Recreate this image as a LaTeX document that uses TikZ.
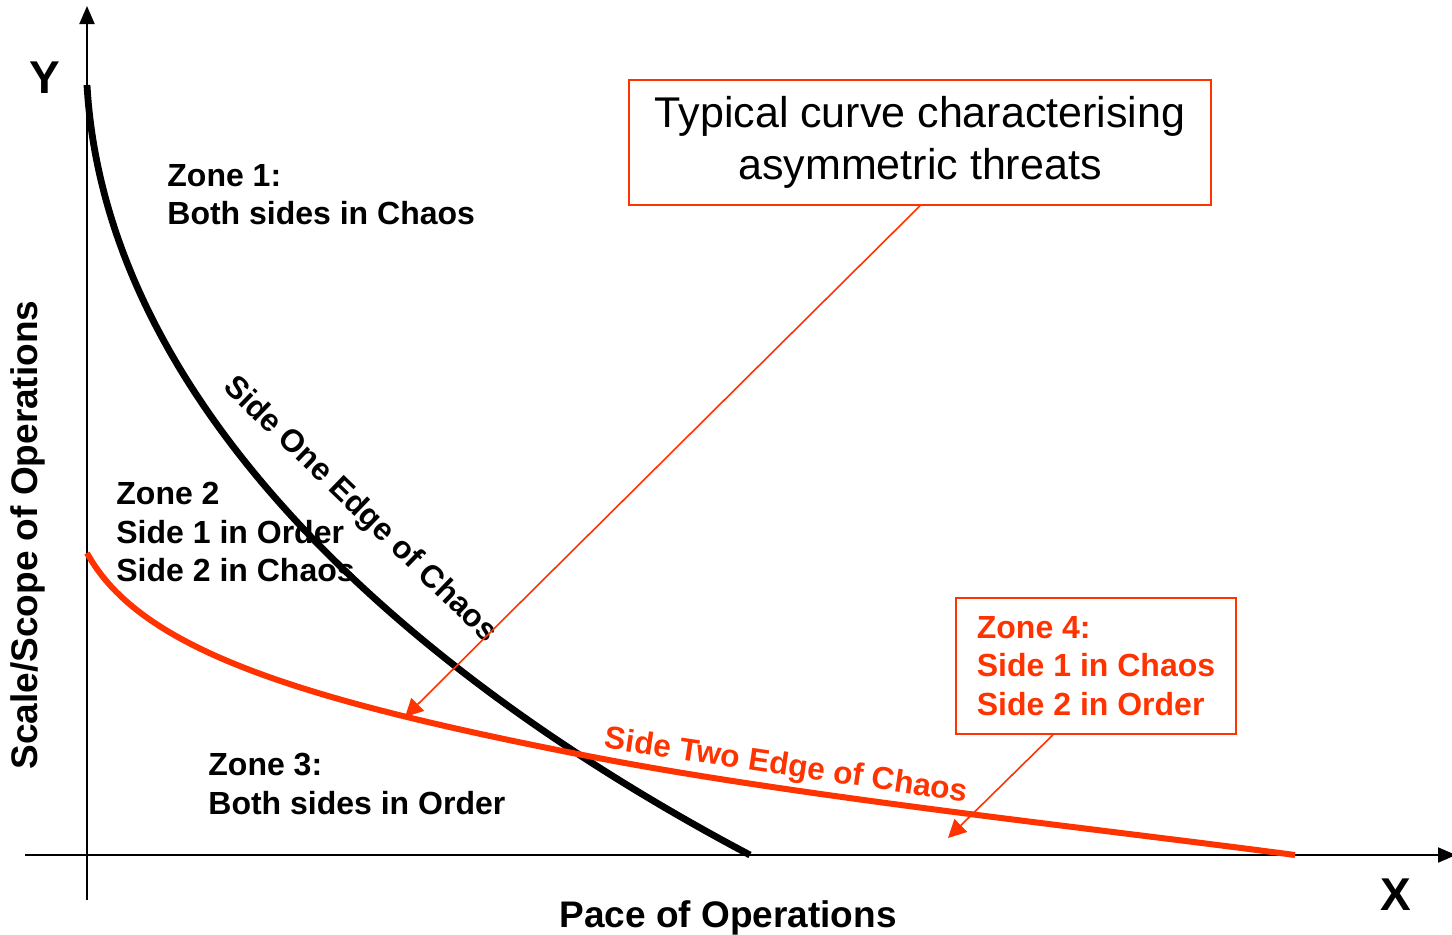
\documentclass[tikz,border=0pt]{standalone}
\usepackage{fontspec}
\setmainfont{Liberation Sans}
\usepackage{tikz}
\usetikzlibrary{arrows.meta, positioning, calc}
\definecolor{chaosred}{RGB}{255,51,0}

\begin{document}
\begin{tikzpicture}[
    x=0.5pt, y=-0.5pt,
    axis/.style={line width=1pt, -{Triangle[length=9pt, width=7.5pt]}},
    edge/.style={line width=3.4pt, line cap=butt},
    zone/.style={font=\fontsize{16}{19.2}\selectfont\bfseries, align=left, anchor=north west, inner sep=0pt},
    callout/.style={draw=chaosred, line width=0.8pt, align=center},
    pointer/.style={chaosred, line width=0.8pt, -{Triangle[length=9pt, width=9pt]}}
]
    \useasboundingbox (0,0) rectangle (1452,934);

    % axes
    \coordinate (origin) at (87,855);
    \coordinate (ytop) at (87,6);
    \coordinate (ybot) at (87,900);
    \coordinate (xleft) at (25,855);
    \coordinate (xright) at (1456,855);
    \draw[axis] (ybot) -- (ytop);
    \draw[axis] (xleft) -- (xright);
    \node[font=\fontsize{23}{26}\selectfont\bfseries] (ylab) at (45,78) {Y};
    \node[font=\fontsize{23}{26}\selectfont\bfseries] (xlab) at (1396,895) {X};
    \node[font=\fontsize{18.5}{22}\selectfont\bfseries] (xtitle) at (728,918) {Pace of Operations};
    \node[font=\fontsize{18.5}{22}\selectfont\bfseries, rotate=90] (ytitle) at (28,535) {Scale/Scope of Operations};

    % the two edges of chaos
    \draw[edge, black] (87,85) .. controls (105,400) and (400,670) .. (750,855);
    \draw[edge, chaosred, line width=3pt] (87,553) .. controls (140,650) and (300,700) .. (593,757)
        .. controls (800,797) and (1100,829) .. (1295,855);
    \coordinate (redhit) at (405,717);
    \coordinate (redlow) at (948,838);

    \node[rotate=-44, font=\fontsize{15.8}{19}\selectfont\bfseries] (sideone) at (360,510) {Side One Edge of Chaos};
    \node[rotate=-8.5, font=\fontsize{15.8}{19}\selectfont\bfseries, text=chaosred] (sidetwo) at (786,767) {Side Two Edge of Chaos};

    % zones
    \node[zone] (zone1) at (167,164) {Zone 1:\\Both sides in Chaos};
    \node[zone] (zone2) at (116,482) {Zone 2\\Side 1 in Order\\Side 2 in Chaos};
    \node[zone] (zone3) at (208,753) {Zone 3:\\Both sides in Order};

    % callouts
    \node[callout, minimum width=291pt, minimum height=62.5pt, font=\fontsize{21.5}{26}\selectfont] (typical) at (920,142.5) {Typical curve characterising\\asymmetric threats};
    \node[callout, minimum width=140pt, minimum height=68pt, text=chaosred, font=\fontsize{16}{19.2}\selectfont\bfseries, align=left] (zone4) at (1096,666) {Zone 4:\\Side 1 in Chaos\\Side 2 in Order};
    \draw[pointer] (typical.south) -- (redhit);
    \draw[pointer] ([xshift=-21.5pt]zone4.south) -- (redlow);
\end{tikzpicture}
\end{document}
